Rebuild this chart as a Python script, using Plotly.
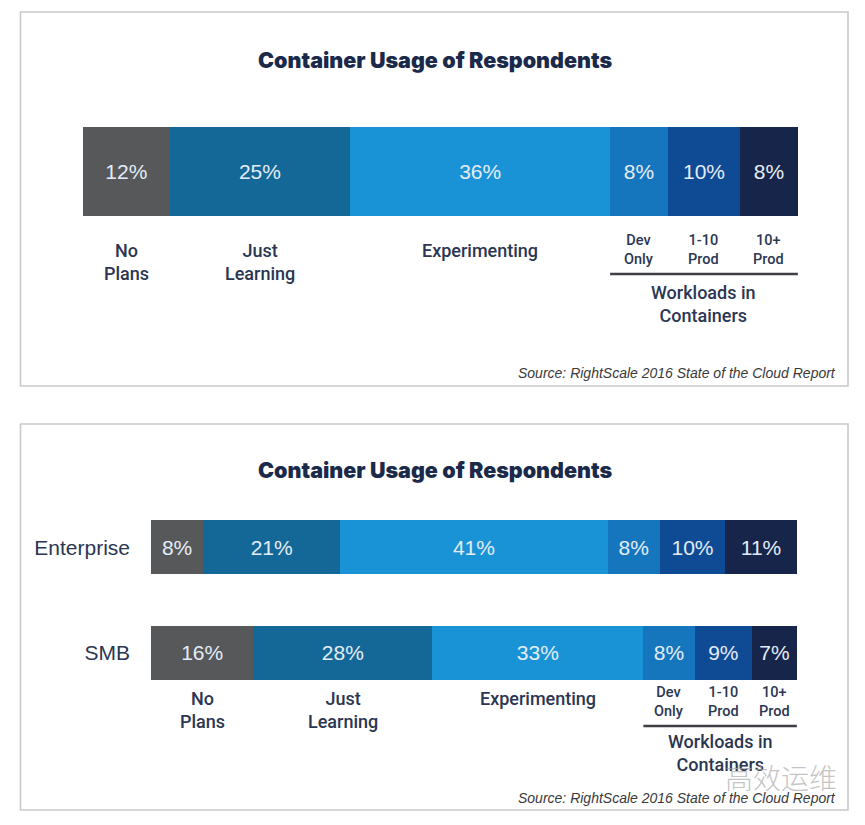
import plotly.graph_objects as go

# ---------------- data ----------------
categories = ["No Plans", "Just Learning", "Experimenting", "Dev Only", "1-10 Prod", "10+ Prod"]
category_labels = ["No<br>Plans", "Just<br>Learning", "Experimenting", "Dev<br>Only", "1-10<br>Prod", "10+<br>Prod"]
overall_values = [12, 25, 36, 8, 10, 8]
segments = ["Enterprise", "SMB"]
enterprise_values = [8, 21, 41, 8, 10, 11]
smb_values = [16, 28, 33, 8, 9, 7]
title_text = "Container Usage of Respondents"
group_label = "Workloads in<br>Containers"
source_text = "Source: RightScale 2016 State of the Cloud Report"
watermark_text = "高效运维"

colors = ["#57585a", "#146898", "#1a93d6", "#1576be", "#0f4a94", "#17254a"]

W, H = 865, 825


def px(x):
    return x / W


def py(y):
    return 1 - y / H


def midpoints(vals):
    total = sum(vals)
    out, cum = [], 0
    for v in vals:
        out.append((cum + v / 2) / total * 100)
        cum += v
    return out


def start_of(vals, idx):
    return sum(vals[:idx]) / sum(vals) * 100


fig = go.Figure()

pct_font = dict(family="Liberation Sans, Arial, sans-serif", size=21, color="#e4edf7")

for i, cat in enumerate(categories):
    fig.add_trace(go.Bar(
        x=[overall_values[i]], y=["All"], orientation="h",
        marker=dict(color=colors[i], line=dict(width=0)),
        text=[f"{overall_values[i]}%"], textposition="inside",
        insidetextanchor="middle", textangle=0, textfont=pct_font,
        width=1, name=cat, xaxis="x", yaxis="y", hoverinfo="skip",
        cliponaxis=False,
    ))
    fig.add_trace(go.Bar(
        x=[enterprise_values[i], smb_values[i]], y=segments, orientation="h",
        marker=dict(color=colors[i], line=dict(width=0)),
        text=[f"{enterprise_values[i]}%", f"{smb_values[i]}%"], textposition="inside",
        insidetextanchor="middle", textangle=0, textfont=pct_font,
        width=0.51, name=cat, xaxis="x2", yaxis="y2", hoverinfo="skip",
        cliponaxis=False,
    ))

annotations = []
shapes = []

label_color = "#2b3652"
main_font = dict(family="Roboto, Liberation Sans, sans-serif", size=18, color=label_color, weight=500)
small_font = dict(family="Roboto, Liberation Sans, sans-serif", size=14.5, color=label_color, weight=500)

panels = [
    dict(xa="x", vals=overall_values, title_y=60, main_top=238, small_top=230,
         line_y=274, group_y=304, source_y=373, box=(12, 386)),
    dict(xa="x2", vals=smb_values, title_y=470, main_top=686, small_top=682,
         line_y=726, group_y=753, source_y=798, box=(424, 810)),
]

for p in panels:
    # panel border
    shapes.append(dict(type="rect", xref="paper", yref="paper",
                       x0=px(20.5), x1=px(848), y0=py(p["box"][1]), y1=py(p["box"][0]),
                       line=dict(color="#c9c9c9", width=1.6), fillcolor="rgba(0,0,0,0)", layer="below"))
    # title
    annotations.append(dict(text=title_text, xref="paper", yref="paper",
                            x=px(434.5), y=py(p["title_y"]), xanchor="center", yanchor="middle",
                            showarrow=False,
                            font=dict(family="Inter, Open Sans, sans-serif", size=21.5,
                                      color="#1b2a4a", weight=900)))
    mids = midpoints(p["vals"])
    for i, lab in enumerate(category_labels):
        small = i >= 3
        annotations.append(dict(text=lab, xref=p["xa"], yref="paper", x=mids[i],
                                y=py(p["small_top"] if small else p["main_top"]),
                                xanchor="center", yanchor="top", showarrow=False,
                                font=small_font if small else main_font))
    x_start = start_of(p["vals"], 3)
    shapes.append(dict(type="line", xref=p["xa"], yref="paper", x0=x_start, x1=100,
                       y0=py(p["line_y"]), y1=py(p["line_y"]),
                       line=dict(color="#3f3f44", width=2.5)))
    annotations.append(dict(text=group_label, xref=p["xa"], yref="paper", x=(x_start + 100) / 2,
                            y=py(p["group_y"]), xanchor="center", yanchor="middle", showarrow=False,
                            font=dict(family="Roboto, Liberation Sans, sans-serif", size=18,
                                      color=label_color, weight=500)))
    annotations.append(dict(text=f"<i>{source_text}</i>", xref="paper", yref="paper",
                            x=px(838), y=py(p["source_y"]), xanchor="right", yanchor="middle",
                            showarrow=False,
                            font=dict(family="Liberation Sans, Arial, sans-serif", size=14,
                                      color="#3a3a3a")))

# watermark
annotations.append(dict(text=watermark_text, xref="paper", yref="paper", x=px(781), y=py(777),
                        xanchor="center", yanchor="middle", showarrow=False,
                        font=dict(family="Noto Sans CJK SC", size=28, color="rgba(170,170,170,0.7)",
                                  weight=300)))

fig.update_layout(
    width=W, height=H,
    margin=dict(l=0, r=0, t=0, b=0),
    paper_bgcolor="white", plot_bgcolor="white",
    barmode="stack", barnorm="percent",
    showlegend=False,
    xaxis=dict(domain=[px(83), px(798)], range=[0, 100.02], visible=False, fixedrange=True),
    yaxis=dict(domain=[py(216), py(127)], range=[-0.5, 0.5], visible=False, fixedrange=True),
    xaxis2=dict(domain=[px(151), px(797)], range=[0, 100.02], visible=False, fixedrange=True,
                anchor="y2"),
    yaxis2=dict(domain=[py(705.5), py(494.5)], range=[-0.5, 1.5], anchor="x2",
                categoryorder="array", categoryarray=["SMB", "Enterprise"],
                showgrid=False, zeroline=False, showline=False, ticks="",
                ticklabelstandoff=20,
                tickfont=dict(family="Liberation Sans, Arial, sans-serif", size=21, color="#2b3652"),
                fixedrange=True),
    annotations=annotations,
    shapes=shapes,
    uniformtext=dict(mode=False),
)

fig.write_html("out.html", config=dict(displayModeBar=False, staticPlot=True),
               post_script="document.body.style.margin='0';document.body.style.overflow='hidden';")
